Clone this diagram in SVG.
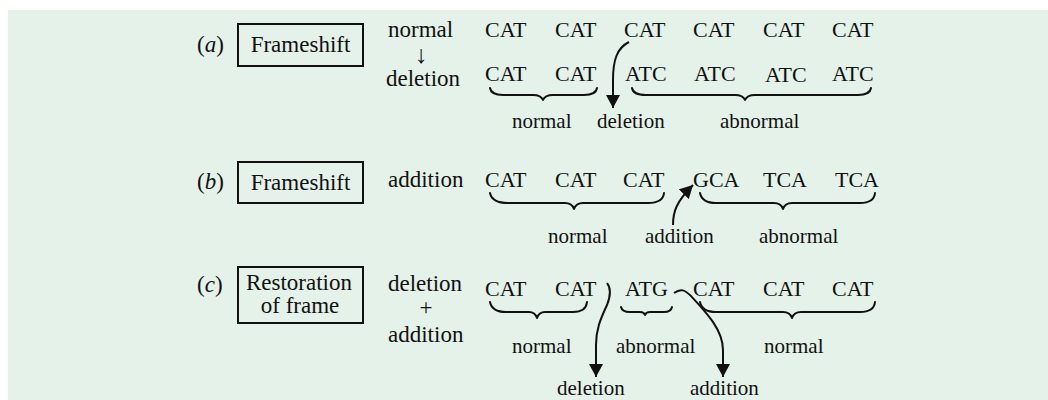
<svg xmlns="http://www.w3.org/2000/svg" width="1048" height="400" viewBox="0 0 1048 400" font-family="'Liberation Serif', 'DejaVu Serif', serif">
<defs>
<style>
text{font-family:'Liberation Serif','DejaVu Serif',serif;fill:#111}
.big{font-size:23px}
.dna{font-size:22px}
.lab{font-size:21px}
.box{fill:none;stroke:#111;stroke-width:2}
.brace{fill:none;stroke:#111;stroke-width:2;stroke-linecap:round;stroke-linejoin:round}
.arr{fill:none;stroke:#111;stroke-width:2;marker-end:url(#ah)}
</style>
<marker id="ah" markerUnits="userSpaceOnUse" viewBox="0 0 13 14" markerWidth="13" markerHeight="14" refX="13" refY="7" orient="auto">
<path d="M0,0 L13,7 L0,14 z" fill="#111"/>
</marker>
</defs>
<rect x="8" y="10" width="1040" height="390" fill="#e5f2ea"/>

<g id="row-a">
<text class="big" x="197" y="52">(<tspan font-style="italic">a</tspan>)</text>
<g id="box-a"><rect class="box" x="238" y="24" width="125" height="42"/><text class="big" x="300.5" y="52" text-anchor="middle">Frameshift</text></g>
<text class="big" x="388" y="37">normal</text>
<text x="421" y="63" text-anchor="middle" font-size="25px">↓</text>
<text class="big" x="386" y="86">deletion</text>
<g class="dna">
<text x="485" y="37">CAT</text><text x="555" y="37">CAT</text><text x="624" y="37">CAT</text><text x="693" y="37">CAT</text><text x="763" y="37">CAT</text><text x="832" y="37">CAT</text>
<text x="485" y="81">CAT</text><text x="555" y="81">CAT</text><text x="625" y="81">ATC</text><text x="694" y="81">ATC</text><text x="765" y="82">ATC</text><text x="832" y="81">ATC</text>
</g>
<g class="lab"><text x="512" y="128">normal</text><text x="597" y="128">deletion</text><text x="720" y="128">abnormal</text></g>
</g>

<g id="row-b">
<text class="big" x="197" y="189">(<tspan font-style="italic">b</tspan>)</text>
<g id="box-b"><rect class="box" x="238" y="162" width="125" height="41"/><text class="big" x="300.5" y="190" text-anchor="middle">Frameshift</text></g>
<text class="big" x="388" y="187">addition</text>
<g class="dna">
<text x="485" y="187">CAT</text><text x="555" y="187">CAT</text><text x="623" y="187">CAT</text><text x="693" y="187">GCA</text><text x="763" y="187">TCA</text><text x="835" y="187">TCA</text>
</g>
<g class="lab"><text x="548" y="243">normal</text><text x="645" y="243">addition</text><text x="759" y="243">abnormal</text></g>
</g>

<g id="row-c">
<text class="big" x="197" y="292">(<tspan font-style="italic">c</tspan>)</text>
<g id="box-c"><rect class="box" x="238" y="267" width="125" height="56"/><text class="big" x="299" y="290" text-anchor="middle">Restoration</text><text class="big" x="300" y="313" text-anchor="middle">of frame</text></g>
<text class="big" x="388" y="291">deletion</text>
<text class="big" x="426" y="315" text-anchor="middle">+</text>
<text class="big" x="388" y="342">addition</text>
<g class="dna">
<text x="485" y="296">CAT</text><text x="555" y="296">CAT</text><text x="625" y="296">ATG</text><text x="693" y="296">CAT</text><text x="763" y="296">CAT</text><text x="832" y="296">CAT</text>
</g>
<g class="lab"><text x="512" y="353">normal</text><text x="616" y="353">abnormal</text><text x="764" y="353">normal</text><text x="557" y="395">deletion</text><text x="690" y="395">addition</text></g>
</g>

<g id="connectors">
<path class="brace" d="M490 88 Q491 95 503 95 L533 95 Q541 95 543 100 Q545 95 553 95 L584 95 Q596 95 597 88"/>
<path class="brace" d="M632 88 Q633 95 646 95 L735 95 Q743 95 745 100 Q747 95 755 95 L858 95 Q870 95 871 88"/>
<path class="brace" d="M490 193 Q492 203 508 203 L565 203 Q572 203 574 209 Q576 203 583 203 L648 203 Q663 203 664 193"/>
<path class="brace" d="M700 193 Q702 203 716 203 L774 203 Q781 203 783 209 Q785 203 792 203 L860 203 Q874 203 875 193"/>
<path class="brace" d="M490 302 Q492 312 506 312 L529 312 Q535 312 537 318 Q539 312 545 312 L573 312 Q586 312 587 302"/>
<path class="brace" d="M621 307 Q622 312 630 312 L640 312 Q644 312 645 315 Q646 312 650 312 L664 312 Q671 312 672 307"/>
<path class="brace" d="M700 302 Q702 312 716 312 L783 312 Q790 312 792 318 Q794 312 801 312 L860 312 Q874 312 875 302"/>
<path class="arr" d="M629 42 C617 48 613 60 613 80 L613 108"/>
<path class="arr" d="M673 225 C673 212 676 202 693 185"/>
<path class="arr" d="M607 283 C611 288 611 295 607 305 C600 320 596 330 596 345 L596 377"/>
<path class="arr" d="M674 293 C681 288 685 290 691 296 C706 312 723 330 723 350 L723 377"/>
</g>
</svg>
